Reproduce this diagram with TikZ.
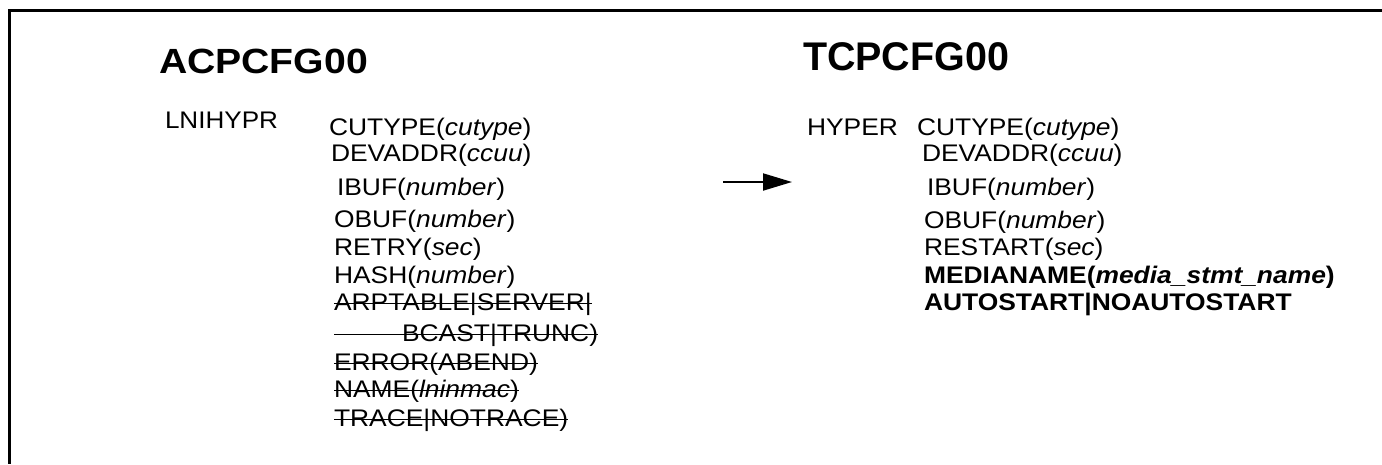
\documentclass[tikz,border=0pt]{standalone}
\usepackage{fontspec}
\setmainfont{Liberation Sans}[FakeStretch=1.1]
\usetikzlibrary{arrows.meta,calc}
\newsavebox{\fitbox}
\newcommand{\fitw}[2]{\sbox{\fitbox}{#2}\scalebox{\fpeval{#1/\the\wd\fitbox}}[1]{\usebox{\fitbox}}}
\begin{document}
\begin{tikzpicture}[x=1pt,y=-1pt,
  txt/.style={anchor=base west,inner sep=0pt,outer sep=0pt,font=\fontsize{24}{27}\selectfont},
  ttl/.style={anchor=base west,inner sep=0pt,outer sep=0pt,font=\bfseries},
  bld/.style={txt,font=\fontsize{24}{27}\selectfont\bfseries},
  strike/.style={line width=1.6pt},
  frame/.style={line width=3pt},
  conn/.style={line width=2pt,-{Triangle[length=29pt,width=17pt]}}]
\useasboundingbox (0,0) rectangle (1382,464);
\coordinate (fr1) at (1382,10);
\coordinate (fr2) at (9,10);
\coordinate (fr3) at (9,464);
\draw[frame] (fr1) -- (fr2) -- (fr3);
% left
\node[ttl] (t1) at (159,73) {\fontsize{35}{40}\selectfont\fitw{209}{ACPCFG00}};
\node[txt] (l0) at (165,128) {\fitw{113}{LNIHYPR}};
\node[txt] (l1) at (329,135) {CUTYPE(\textit{cutype})};
\node[txt] (l2) at (331,161) {DEVADDR(\textit{ccuu})};
\node[txt] (l3) at (337,195) {IBUF(\textit{number})};
\node[txt] (l4) at (334,227) {OBUF(\textit{number})};
\node[txt] (l5) at (334,255) {RETRY(\textit{sec})};
\node[txt] (l6) at (334,283) {HASH(\textit{number})};
\node[txt] (l7) at (334,310) {ARPTABLE|SERVER|};
\node[txt] (l8) at (402,341) {BCAST|TRUNC)};
\node[txt] (l9) at (334,370) {ERROR(ABEND)};
\node[txt] (l10) at (334,397) {NAME(\textit{lninmac})};
\node[txt] (l11) at (334,426) {TRACE|NOTRACE)};
\foreach \n in {l7,l9,l10,l11}
  \draw[strike] ([yshift=6.5pt]\n.base west) -- ([yshift=6.5pt]\n.base east);
\draw[strike] ($(l7.base west |- l8.base)+(0pt,6.5pt)$) -- ([yshift=6.5pt]l8.base east);
% arrow
\coordinate (a1) at (723,182);
\coordinate (a2) at (792,182);
\draw[conn] (a1) -- (a2);
% right
\node[ttl] (t2) at (803,70) {\fontsize{40}{45}\selectfont\fitw{206}{TCPCFG00}};
\node[txt] (r0) at (807,135) {HYPER};
\node[txt] (r1) at (917,135) {CUTYPE(\textit{cutype})};
\node[txt] (r2) at (922,161) {DEVADDR(\textit{ccuu})};
\node[txt] (r3) at (927,195) {IBUF(\textit{number})};
\node[txt] (r4) at (924,228) {OBUF(\textit{number})};
\node[txt] (r5) at (924,255) {RESTART(\textit{sec})};
\node[bld] (r6) at (924,283) {MEDIANAME(\textit{media\_stmt\_name})};
\node[bld] (r7) at (924,310) {AUTOSTART|NOAUTOSTART};
\end{tikzpicture}
\end{document}
